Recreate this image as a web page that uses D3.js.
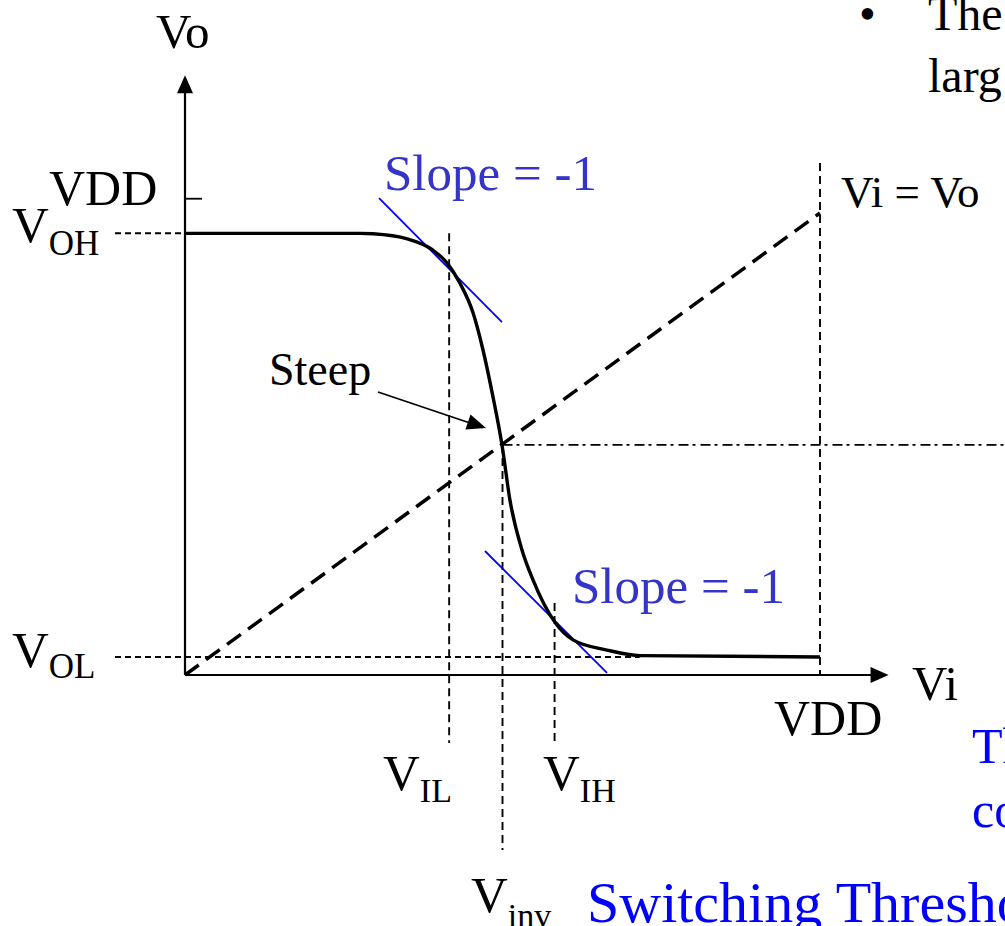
<!DOCTYPE html>
<html>
<head>
<meta charset="utf-8">
<script src="https://cdn.jsdelivr.net/npm/d3@7"></script>
<style>
  html, body { margin: 0; padding: 0; background: #fff; }
  svg { display: block; }
  text { font-family: "Liberation Serif", "Times New Roman", serif; }
</style>
</head>
<body>
<svg id="chart" width="1005" height="926"></svg>
<script>
// ---- data (volts) ----
const VDD = 5;
const VOH = 4.78;
const VOL = 0.195;
const VDD_TICK_Y = 5.16;
const VIL = 2.08;
const VINV = 2.5;
const VINV_OUT = 2.49;
const VIH = 2.91;

// Voltage transfer characteristic (Vi, Vo)
const vtcVi = [0, 1.38, 1.48, 1.75, 1.95, 2.063, 2.165, 2.268, 2.346, 2.425, 2.496, 2.559, 2.654, 2.74, 2.913, 3.055, 3.323, 3.583, 5];
const vtcVo = [4.78, 4.78, 4.775, 4.72, 4.60, 4.46, 4.24, 3.92, 3.52, 3.01, 2.49, 1.89, 1.35, 1.03, 0.57, 0.38, 0.27, 0.21, 0.195];

// Vi = Vo line
const unityVi = [0, 5];
const unityVo = [0, 5];

// tangent (slope = -1) segments
const tangentTop = [[1.528, 5.16], [2.496, 3.82]];
const tangentBottom = [[2.362, 1.342], [3.323, 0.022]];

// axis extents
const xAxisEnd = 5.54;
const yAxisEnd = 6.49;

// guide line extents
const guideLeft = -0.551;
const guideRight = 6.5;
const vilBottom = -0.736;
const vinvBottom = -1.894;
const vihTop = 0.78;
const vddTop = 5.54;
const volRight = 3.58;

// ---- scales ----
const x = d3.scaleLinear().domain([0, VDD]).range([185, 820]);
const y = d3.scaleLinear().domain([0, VDD]).range([675, 213]);

const svg = d3.select("#chart");
const line = d3.line().x(d => x(d[0])).y(d => y(d[1]));

function seg(p, opts) {
  const path = svg.append("path").attr("d", line(p)).attr("fill", "none")
    .attr("stroke", opts.color || "#000").attr("stroke-width", opts.width || 1.5);
  if (opts.dash) path.attr("stroke-dasharray", opts.dash);
  return path;
}

// guides
seg([[guideLeft, VOH], [0, VOH]], {dash: "6,4", width: 2});
seg([[guideLeft, VOL], [volRight, VOL]], {dash: "6,4", width: 2});
seg([[VIL, VOH], [VIL, vilBottom]], {dash: "8,5", width: 1.9});
seg([[VINV, VINV_OUT], [VINV, vinvBottom]], {dash: "8,5", width: 1.9});
seg([[VIH, vihTop], [VIH, vilBottom]], {dash: "8,5", width: 1.9});
seg([[VDD, vddTop], [VDD, 0]], {dash: "8,5", width: 1.9});
seg([[VINV, VINV_OUT], [guideRight, VINV_OUT]], {dash: "10,4,3,5", width: 1.9});

// axes
svg.append("g").attr("transform", `translate(${x(0)},0)`)
  .call(d3.axisRight(y).tickValues([VDD_TICK_Y]).tickSize(17).tickFormat(""))
  .call(g => g.select(".domain").remove())
  .call(g => g.selectAll("line").attr("stroke", "#000").attr("stroke-width", 1.8));

seg([[0, 0], [0, yAxisEnd - 0.15]], {width: 2.2});
seg([[0, 0], [xAxisEnd - 0.1, 0]], {width: 2.2});

// arrowheads
const yTip = [x(0), y(yAxisEnd)];
svg.append("path")
  .attr("d", `M${yTip[0]},${yTip[1]} L${yTip[0] - 8},${yTip[1] + 18} L${yTip[0] + 8},${yTip[1] + 18} Z`)
  .attr("fill", "#000");
const xTip = [x(xAxisEnd), y(0)];
svg.append("path")
  .attr("d", `M${xTip[0]},${xTip[1]} L${xTip[0] - 18},${xTip[1] - 8} L${xTip[0] - 18},${xTip[1] + 8} Z`)
  .attr("fill", "#000");

// Vi = Vo dashed line
seg(unityVi.map((v, i) => [v, unityVo[i]]), {dash: "17,9", width: 3.5});

// tangents
seg(tangentTop, {color: "#0000ff", width: 1.8});
seg(tangentBottom, {color: "#0000ff", width: 1.8});

// VTC curve
svg.append("path")
  .attr("d", d3.line().x(d => x(d[0])).y(d => y(d[1])).curve(d3.curveMonotoneX)(vtcVi.map((v, i) => [v, vtcVo[i]])))
  .attr("fill", "none").attr("stroke", "#000").attr("stroke-width", 3.4);

// Steep arrow
svg.append("line").attr("x1", 378).attr("y1", 392).attr("x2", 470).attr("y2", 423)
  .attr("stroke", "#000").attr("stroke-width", 1.8);
svg.append("path")
  .attr("d", (() => {
    const tx = 486, ty = 428, ang = Math.atan2(428 - 392, 486 - 378);
    const L = 19, W = 8;
    const bx = tx - L * Math.cos(ang), by = ty - L * Math.sin(ang);
    const nx = -Math.sin(ang) * W, ny = Math.cos(ang) * W;
    return `M${tx},${ty} L${bx + nx},${by + ny} L${bx - nx},${by - ny} Z`;
  })())
  .attr("fill", "#000");

// ---- text ----
function txt(s, px, py, size, color) {
  return svg.append("text").attr("x", px).attr("y", py)
    .attr("font-family", "Liberation Serif, Times New Roman, serif")
    .attr("font-size", size).attr("fill", color || "#000").text(s);
}
function sub(main, subs, px, py, subDy, size, subSize) {
  const t = svg.append("text").attr("x", px).attr("y", py)
    .attr("font-family", "Liberation Serif, Times New Roman, serif")
    .attr("font-size", size).attr("fill", "#000");
  t.append("tspan").text(main);
  t.append("tspan").attr("dy", subDy).attr("font-size", subSize).text(subs);
  return t;
}

txt("Vo", 156, 48, 49);
txt("VDD", 49, 205, 50);
sub("V", "OH", 12, 242, 13, 51, 35);
sub("V", "OL", 12, 667, 11, 51, 35);
txt("Slope = -1", 384, 190, 51, "#3434c8");
txt("Slope = -1", 572, 603, 51, "#3434c8");
txt("Vi = Vo", 841, 207, 45);
txt("Steep", 269, 385, 46);
txt("Vi", 912, 700, 49);
txt("VDD", 774, 735, 50);
sub("V", "IL", 383, 790, 12, 51, 34);
sub("V", "IH", 543, 790, 12, 51, 34);
sub("V", "inv", 471, 912, 15, 51, 34);
txt("Switching Threshold", 587, 922, 58, "#0000ff");
txt("Th", 972, 763, 50, "#0000ff");
txt("co", 972, 827, 50, "#0000ff");
txt("\u2022", 859, 30, 48);
txt("The", 928, 30, 48);
txt("larg", 928, 92, 48);
</script>
</body>
</html>
